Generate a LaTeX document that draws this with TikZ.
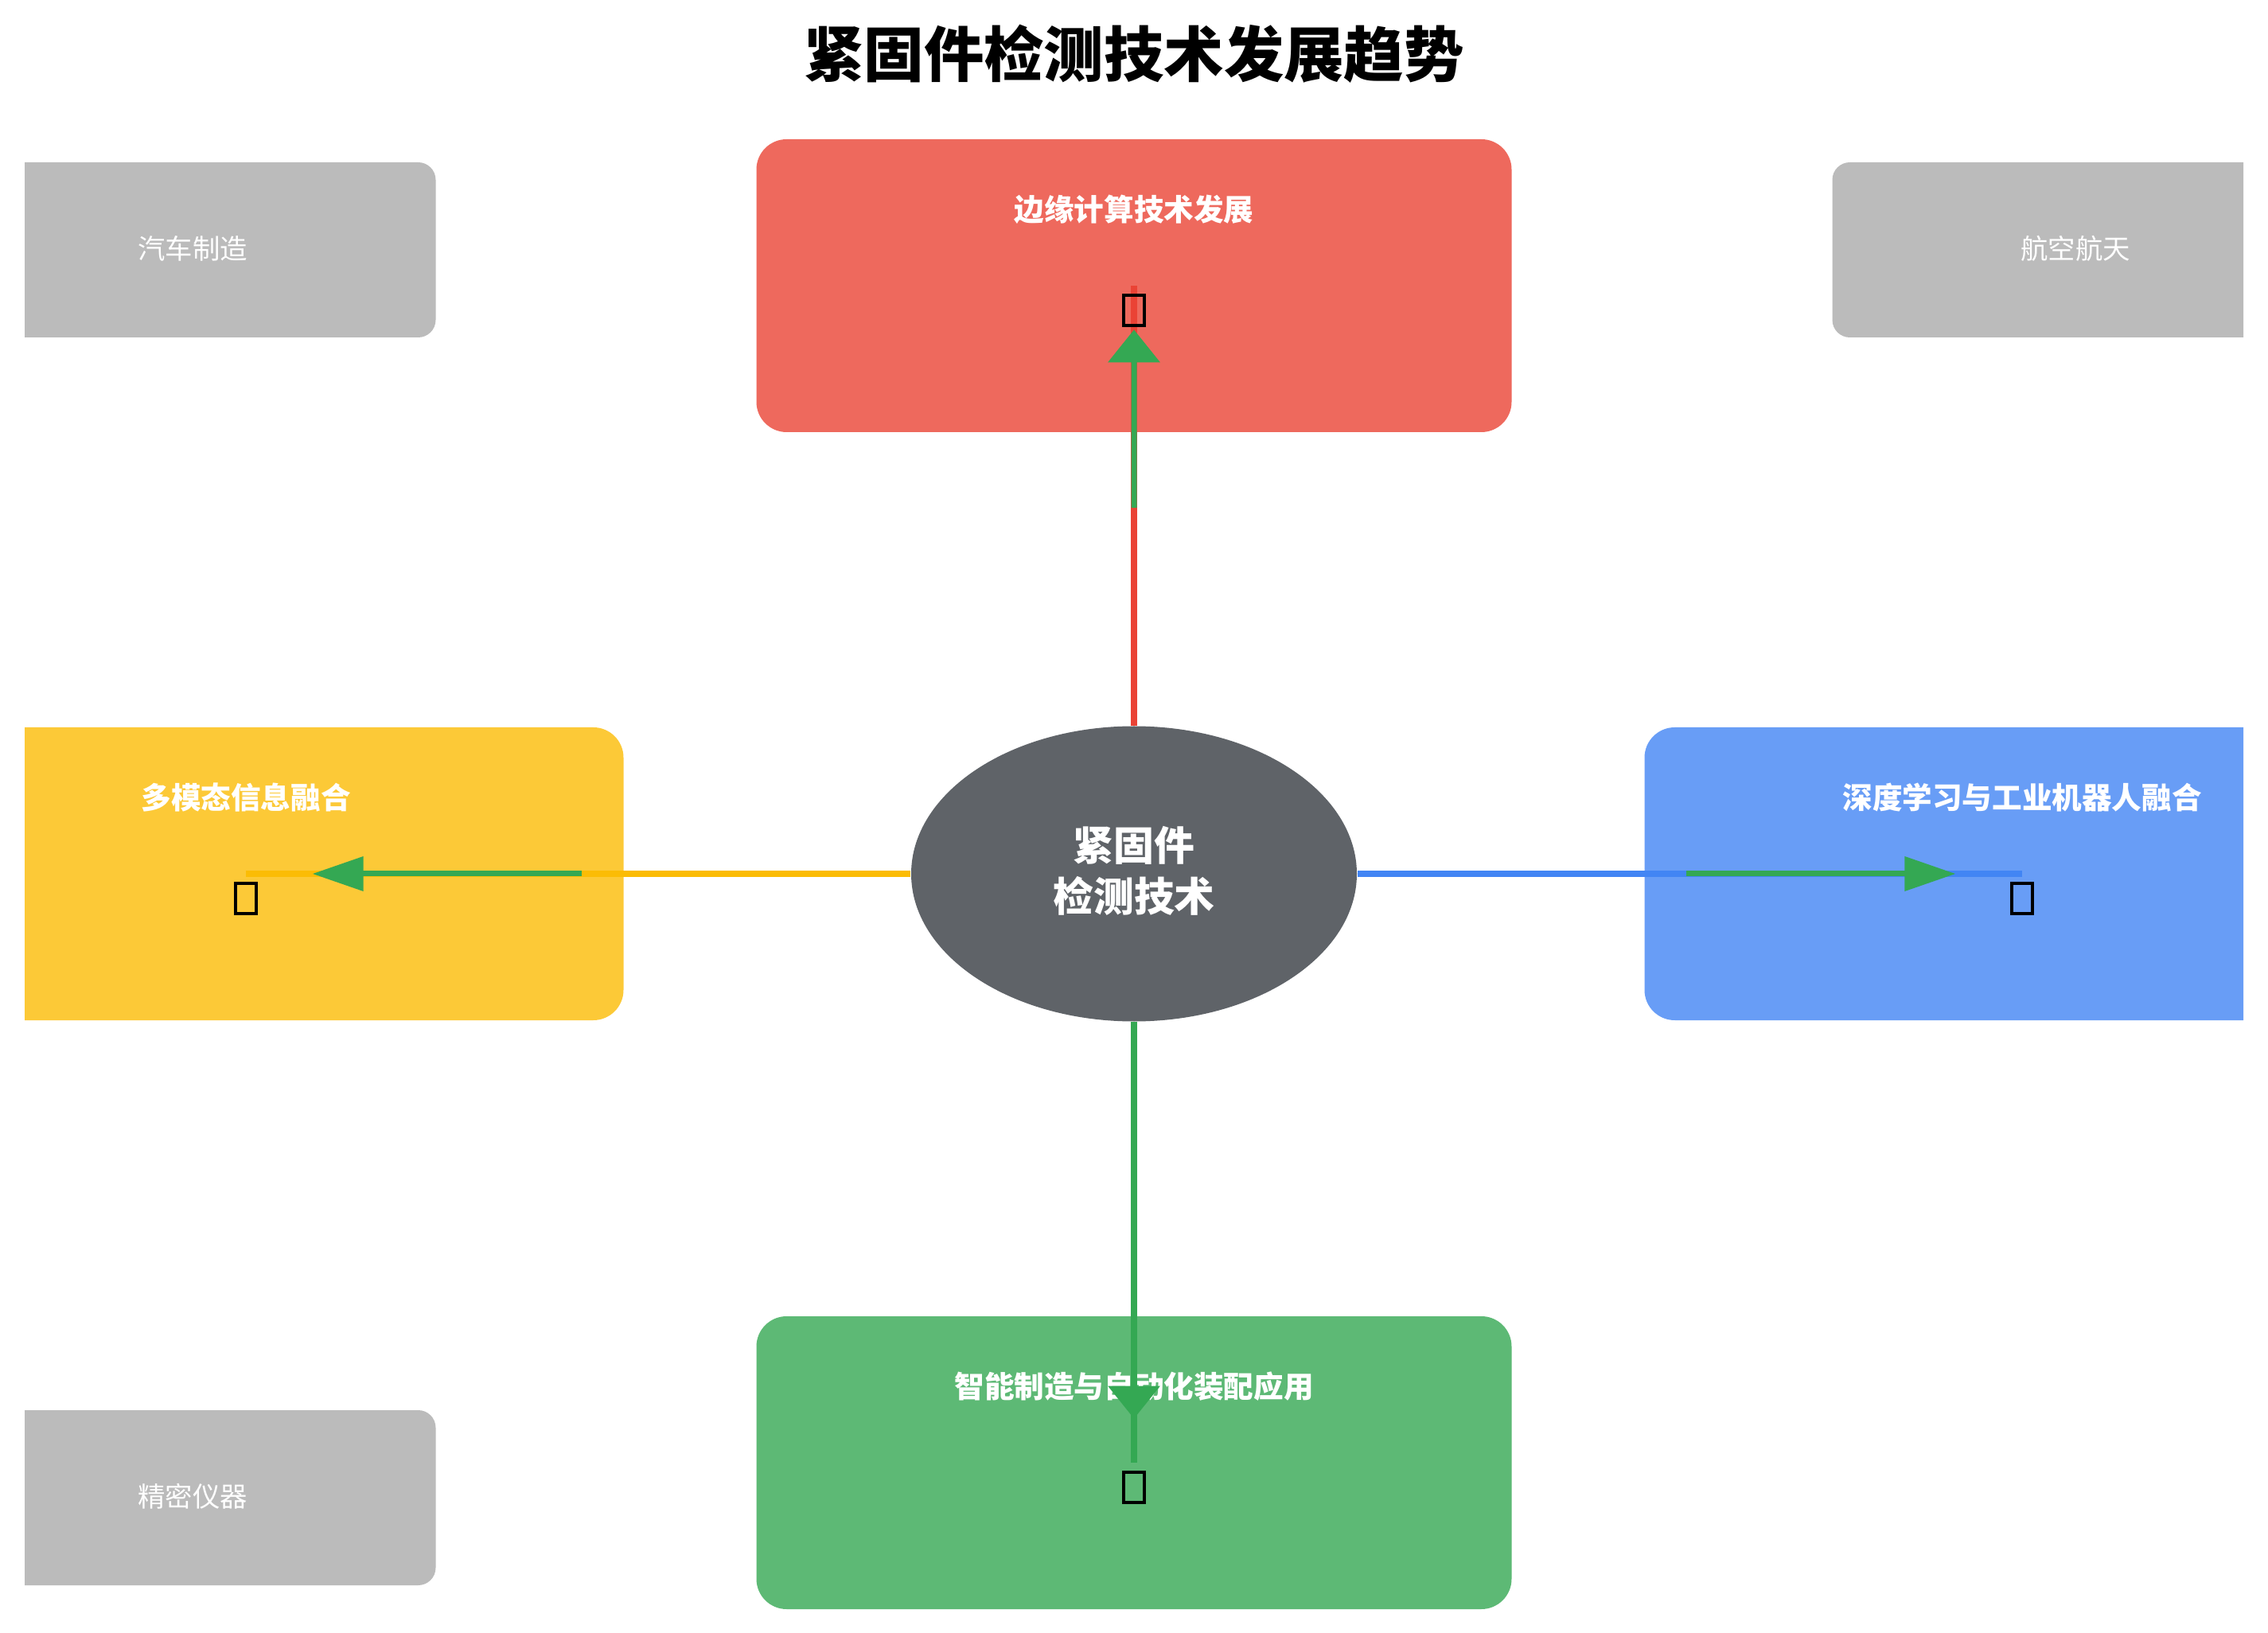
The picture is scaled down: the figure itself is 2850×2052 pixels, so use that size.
\documentclass[tikz,border=0pt]{standalone}
\usepackage{fontspec}
\newfontfamily\cjk{Noto Sans CJK SC}
\usetikzlibrary{shapes.geometric,calc,arrows.meta}
\definecolor{redbox}{HTML}{EE695D}
\definecolor{redline}{HTML}{EA4335}
\definecolor{yelbox}{HTML}{FCC937}
\definecolor{yelline}{HTML}{FBBC05}
\definecolor{bluebox}{HTML}{689DF6}
\definecolor{blueline}{HTML}{4285F4}
\definecolor{grnbox}{HTML}{5DB975}
\definecolor{grnline}{HTML}{34A853}
\definecolor{greybox}{HTML}{BBBBBB}
\definecolor{hub}{HTML}{5F6368}
\tikzset{
  trendbox/.style={rectangle, rounded corners=9.5pt, minimum width=237.25pt, minimum height=92pt, inner sep=0pt, draw=none},
  appbox/.style={rectangle, rounded corners=5.5pt, fill=greybox, minimum width=152.75pt, minimum height=55pt, inner sep=0pt, draw=none},
  applabel/.style={text=white, inner sep=0pt, font=\cjk\fontsize{8.6}{10}\selectfont},
  boxlabel/.style={text=white, inner sep=0pt, font=\cjk\bfseries\fontsize{9.4}{11}\selectfont},
  tofu/.style={rectangle, draw=black, line width=1pt, minimum width=6.5pt, minimum height=9.5pt, inner sep=0pt},
  mainline/.style={line width=2pt},
  greenarrowv/.style={draw=grnline, line width=1.75pt, -{Triangle[length=10.25pt,width=16pt]}, grnline},
  greenarrowh/.style={draw=grnline, line width=1.75pt, -{Triangle[length=16pt,width=10.5pt]}, grnline},
}
\begin{document}
\begin{tikzpicture}[x=0.25pt,y=-0.25pt]
\useasboundingbox (0,0) rectangle (2850,2052);

% title
\node[font=\cjk\bfseries\fontsize{18.85}{22}\selectfont, inner sep=0pt] (title) at (1425,68) {紧固件检测技术发展趋势};

% clipped boxes
\begin{scope}
\clip (31,0) rectangle (2819,2052);
\node[appbox] (auto) at (242,314) {};
\node[appbox] (aero) at (2608,314) {};
\node[appbox] (prec) at (242,1882) {};
\node[trendbox, fill=yelbox] (left) at (309,1098) {};
\node[trendbox, fill=bluebox] (right) at (2541,1098) {};
\end{scope}
\node[trendbox, fill=redbox] (top) at (1425,359) {};
\node[trendbox, fill=grnbox] (bottom) at (1425,1838) {};

% application labels
\node[applabel] (autolbl) at ($(auto.center)+(0,-2)$) {汽车制造};
\node[applabel] (aerolbl) at ($(aero.center)+(0,-2)$) {航空航天};
\node[applabel] (preclbl) at ($(prec.center)+(0,-2)$) {精密仪器};

% box labels
\node[boxlabel] (toplbl) at ($(top.north)+(0,89)$) {边缘计算技术发展};
\node[boxlabel] (leftlbl) at ($(left.north)+(0,89)$) {多模态信息融合};
\node[boxlabel] (rightlbl) at ($(right.north)+(0,89)$) {深度学习与工业机器人融合};
\node[boxlabel] (botlbl) at ($(bottom.north)+(0,89)$) {智能制造与自动化装配应用};

% hub
\node[ellipse, fill=hub, minimum width=140pt, minimum height=92.75pt, inner sep=0pt] (c) at (1425,1098) {};
\node[text=white, align=center, inner sep=0pt,
  font=\cjk\bfseries\fontsize{12.7}{16}\selectfont] (clbl) at ($(c.center)+(0,-4)$) {紧固件\\检测技术};

% main connectors
\draw[mainline, redline] (c.north) -- (top.center);
\draw[mainline, yelline] (c.west) -- (left.center);
\draw[mainline, blueline] (c.east) -- (right.center);
\draw[mainline, grnline] (c.south) -- (bottom.center);

% icon placeholders
\node[tofu] (topicon) at ($(top.north)+(0,216)$) {};
\node[tofu] (lefticon) at ($(left.north)+(0,216)$) {};
\node[tofu] (righticon) at ($(right.north)+(0,216)$) {};
\node[tofu] (boticon) at ($(bottom.north)+(0,216)$) {};

% green arrows
\draw[greenarrowv] ($(c.north)!0.495!(top.center)$) -- ($(c.north)!0.9!(top.center)$);
\draw[greenarrowh] ($(c.west)!0.495!(left.center)$) -- ($(c.west)!0.9!(left.center)$);
\draw[greenarrowh] ($(c.east)!0.495!(right.center)$) -- ($(c.east)!0.9!(right.center)$);
\draw[greenarrowv] ($(c.south)!0.495!(bottom.center)$) -- ($(c.south)!0.9!(bottom.center)$);
\end{tikzpicture}
\end{document}
